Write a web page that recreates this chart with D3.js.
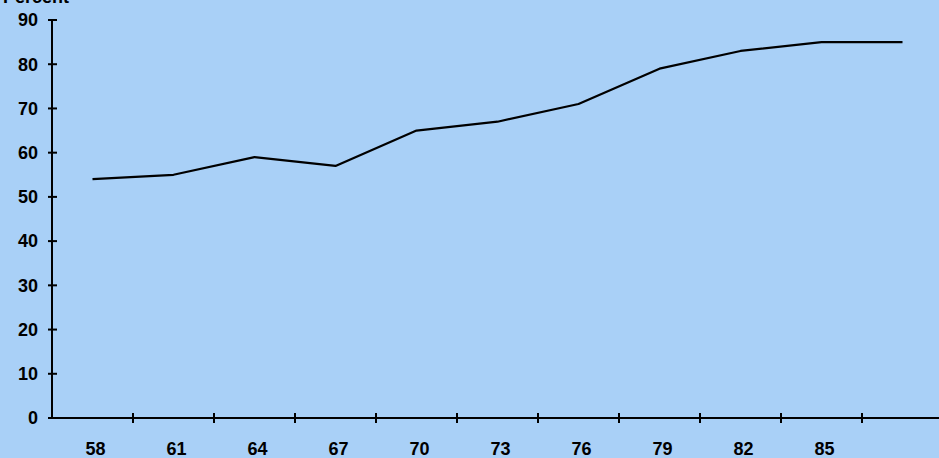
<!DOCTYPE html>
<html>
<head>
<meta charset="utf-8">
<script src="https://cdn.jsdelivr.net/npm/d3@7"></script>
<style>
html,body{margin:0;padding:0;background:#a9d0f7;}
svg{display:block;}
text{font-family:"Liberation Sans",Arial,sans-serif;font-weight:bold;fill:#000;}
</style>
</head>
<body>
<svg id="chart" width="939" height="458"></svg>
<script>
const years = ["58","61","64","67","70","73","76","79","82","85","88"];
const xTickLabels = ["58","61","64","67","70","73","76","79","82","85"];
const percent = [54, 55, 59, 57, 65, 67, 71, 79, 83, 85, 85];
const yTicks = [0,10,20,30,40,50,60,70,80,90];
const yTitle = "Percent";

(function(){
const svg = d3.select("#chart");
const W = 939, H = 458;
svg.append("rect").attr("width",W).attr("height",H).attr("fill","#a9d0f7");

const mLeft = 52, mRight = 943, mTop = 20, mBottom = 418;
const x = d3.scaleBand().domain(years).range([mLeft, mRight]).padding(0);
const y = d3.scaleLinear().domain([0, 90]).range([mBottom, mTop]);

// Title (clipped at top)
svg.append("text").attr("x", 3).attr("y", 3).attr("font-size", 18).text(yTitle);

// Y axis
const yAxisG = svg.append("g");
yAxisG.append("line").attr("x1", mLeft).attr("x2", mLeft).attr("y1", y(90)).attr("y2", y(0))
  .attr("stroke","#000").attr("stroke-width",2);
yTicks.forEach(t => {
  yAxisG.append("line").attr("x1", mLeft-4).attr("x2", mLeft+5).attr("y1", y(t)).attr("y2", y(t))
    .attr("stroke","#000").attr("stroke-width",2);
  yAxisG.append("text").attr("x", 38).attr("y", y(t)).attr("dy","0.35em")
    .attr("text-anchor","end").attr("font-size",18).text(t);
});

// X axis
const xAxisG = svg.append("g");
xAxisG.append("line").attr("x1", mLeft).attr("x2", W).attr("y1", mBottom).attr("y2", mBottom)
  .attr("stroke","#000").attr("stroke-width",2);
years.forEach((c,i) => {
  if (i > 0) {
    const bx = x(c);
    xAxisG.append("line").attr("x1", bx).attr("x2", bx).attr("y1", mBottom-5).attr("y2", mBottom+5)
      .attr("stroke","#000").attr("stroke-width",2);
  }
  if (i < xTickLabels.length) {
    xAxisG.append("text").attr("x", x(c) + x.bandwidth()/2 + 3).attr("y", 455)
      .attr("text-anchor","middle").attr("font-size",18).text(xTickLabels[i]);
  }
});

// Line
const line = d3.line()
  .x((d,i) => x(years[i]) + x.bandwidth()/2)
  .y(d => y(d));
svg.append("path").datum(percent).attr("d", line)
  .attr("fill","none").attr("stroke","#000").attr("stroke-width",2.2).attr("stroke-linejoin","round");
})();
</script>
</body>
</html>
